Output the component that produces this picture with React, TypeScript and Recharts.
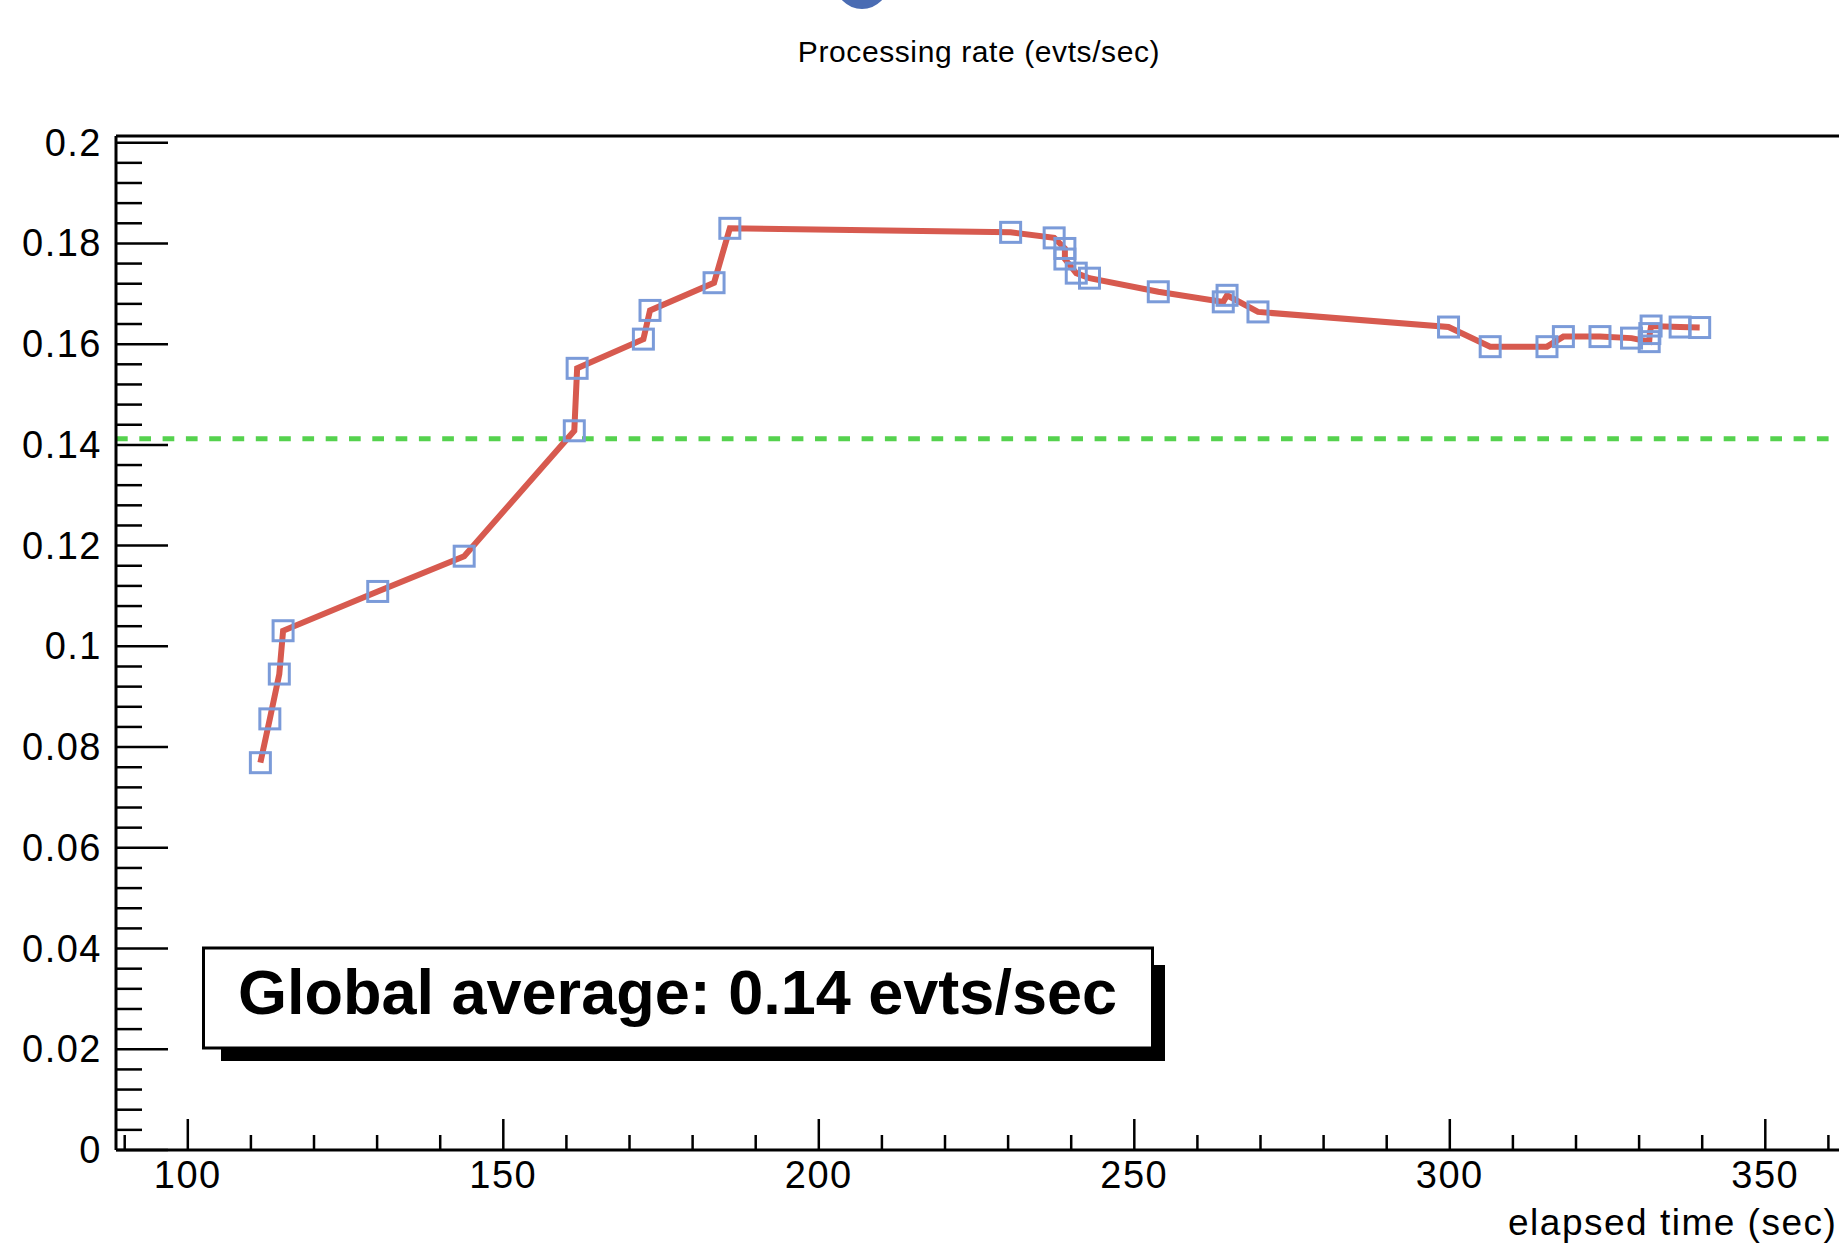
import React from "react";
import { LineChart, Line, XAxis, YAxis, ReferenceLine } from "recharts";

// elapsed time (sec) and processing rate (evts/sec)
const elapsed = [
  111.5, 113.0, 114.5, 115.1, 130.1, 143.8, 161.25, 161.7, 172.2, 173.25, 183.4, 185.9,
  230.4, 237.3, 239.0, 239.0, 240.8, 242.9, 253.8, 264.1, 264.7, 269.6, 299.8, 306.4,
  315.4, 318.0, 323.8, 328.8, 331.6, 331.7, 331.9, 336.5, 339.6,
];
const rate = [
  0.0769, 0.0856, 0.0945, 0.1031, 0.1109, 0.1179, 0.1428, 0.1552, 0.161, 0.1667, 0.1722, 0.183,
  0.1822, 0.1811, 0.179, 0.1769, 0.1741, 0.1731, 0.1704, 0.1684, 0.1697, 0.1664, 0.1634, 0.1595,
  0.1595, 0.1615, 0.1615, 0.1612, 0.1605, 0.1621, 0.1636, 0.1634, 0.1633,
];
const X_MAJOR = [100, 150, 200, 250, 300, 350];
const Y_MAJOR = [0, 0.02, 0.04, 0.06, 0.08, 0.1, 0.12, 0.14, 0.16, 0.18, 0.2];
const GLOBAL_AVG = 0.1412;

const data = elapsed.map((t, i) => ({ t, rate: rate[i] }));

const xTicks: number[] = [];
for (let v = 90; v <= 370; v += 10) xTicks.push(v);
const yTicks: number[] = [];
for (let i = 0; i <= 50; i++) yTicks.push(Number((i * 0.004).toFixed(3)));

const FONT = "'Liberation Sans', Arial, Helvetica, sans-serif";

const isMajor = (list: number[], v: number) => list.some((m) => Math.abs(m - v) < 1e-6);

function YTick(props: any) {
  const { x, y, payload } = props;
  const major = isMajor(Y_MAJOR, payload.value);
  return (
    <g>
      <line x1={x} x2={x + (major ? 52 : 26)} y1={y} y2={y} stroke="#000" strokeWidth={2.5} />
      {major && (
        <text x={x - 14} y={y + 13} textAnchor="end" fontFamily={FONT} fontSize={38} letterSpacing={1.5} fill="#000">
          {String(Number(payload.value.toFixed(3)))}
        </text>
      )}
    </g>
  );
}

function XTick(props: any) {
  const { x, y, payload } = props;
  const major = isMajor(X_MAJOR, payload.value);
  return (
    <g>
      <line x1={x} x2={x} y1={y} y2={y - (major ? 31 : 15)} stroke="#000" strokeWidth={2.5} />
      {major && (
        <text x={x} y={y + 38} textAnchor="middle" fontFamily={FONT} fontSize={38} letterSpacing={1.5} fill="#000">
          {payload.value}
        </text>
      )}
    </g>
  );
}

function Marker(props: any) {
  const { cx, cy, index } = props;
  return (
    <rect key={`m${index}`} x={cx - 10} y={cy - 10} width={20} height={20} fill="none" stroke="#7b9bd9" strokeWidth={3} />
  );
}

export default function App() {
  return (
    <div style={{ position: "absolute", left: 0, top: 0, width: 1839, height: 1243, overflow: "hidden", background: "#fff" }}>
      <LineChart width={2000} height={1243} data={data} margin={{ top: 136, right: 45.4, bottom: 0, left: 0 }}>
        <XAxis
          dataKey="t"
          type="number"
          domain={[88.62, 380]}
          allowDataOverflow
          ticks={xTicks}
          interval={0}
          tick={<XTick />}
          tickLine={false}
          tickSize={0}
          tickMargin={0}
          height={93}
          axisLine={{ stroke: "#000", strokeWidth: 3 }}
        />
        <YAxis
          type="number"
          domain={[0, 0.20133]}
          allowDataOverflow
          ticks={yTicks}
          interval={0}
          tick={<YTick />}
          tickLine={false}
          tickSize={0}
          tickMargin={0}
          width={116}
          axisLine={{ stroke: "#000", strokeWidth: 3 }}
        />
        <ReferenceLine y={0.20133} stroke="#000" strokeWidth={3} />
        <ReferenceLine y={GLOBAL_AVG} stroke="#55d24e" strokeWidth={5} strokeDasharray="11.7 11.6" />
        <Line
          type="linear"
          dataKey="rate"
          stroke="#d75a4f"
          strokeWidth={6}
          dot={Marker}
          activeDot={false}
          isAnimationActive={false}
        />
      </LineChart>
      <svg width={1839} height={1243} style={{ position: "absolute", left: 0, top: 0, pointerEvents: "none" }}>
        <circle cx={862} cy={-18} r={27} fill="#4a6cb3" />
        <text x={979} y={62} textAnchor="middle" fontFamily={FONT} fontSize={30} letterSpacing={0.6} fill="#000">
          Processing rate (evts/sec)
        </text>
        <text x={1508} y={1235} textAnchor="start" fontFamily={FONT} fontSize={37} letterSpacing={1.5} fill="#000">
          elapsed time (sec)
        </text>
        <rect x={221} y={965} width={944} height={96} fill="#000" />
        <rect x={203.5} y={948} width={949} height={100} fill="#fff" stroke="#000" strokeWidth={3} />
        <text x={677.5} y={1014} textAnchor="middle" fontFamily={FONT} fontSize={63} fontWeight="bold" fill="#000">
          Global average: 0.14 evts/sec
        </text>
      </svg>
    </div>
  );
}
